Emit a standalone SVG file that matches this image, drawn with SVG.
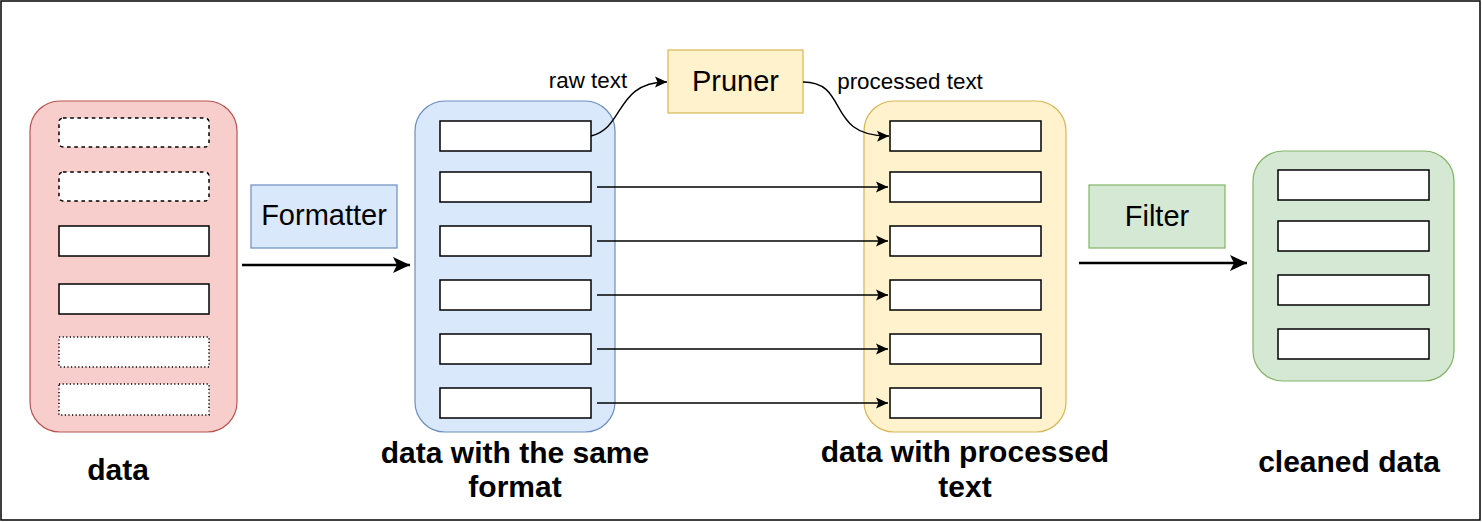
<svg xmlns="http://www.w3.org/2000/svg" width="1482" height="522" viewBox="0 0 1482 522">
<style>
.item{fill:#ffffff;stroke:#000000;stroke-width:1.5}
.dash{stroke-dasharray:3.6 3.6}
.dot{stroke-dasharray:1.2 2.4}
.lbl{font-family:"Liberation Sans",Arial,sans-serif;fill:#000000}
.big{font-size:29px;text-anchor:middle}
.cap{font-size:30px;font-weight:bold;text-anchor:middle}
.sm{font-size:22.4px;text-anchor:middle}
.thin{fill:none;stroke:#000000;stroke-width:1.4}
.thick{fill:none;stroke:#000000;stroke-width:2.6}
</style>
<defs>
<marker id="ah" markerUnits="userSpaceOnUse" markerWidth="14" markerHeight="14" viewBox="-13 -7 14 14" refX="0" refY="0" orient="auto">
<path d="M0,0 L-12,-5.5 L-9.5,0 L-12,5.5 Z" fill="#000000"/>
</marker>
<marker id="ahb" markerUnits="userSpaceOnUse" markerWidth="20" markerHeight="20" viewBox="-19 -10 20 20" refX="0" refY="0" orient="auto">
<path d="M0,0 L-17,-8 L-13,0 L-17,8 Z" fill="#000000"/>
</marker>
</defs>
<rect x="1" y="1" width="1479" height="519" fill="#ffffff" stroke="#000000" stroke-width="1.5"/>

<g id="data">
<rect x="30" y="101" width="207" height="331" rx="30" fill="#f8cecc" stroke="#b85450" stroke-width="1.2"/>
<rect class="item dash" x="59" y="118" width="150" height="29" rx="4"/>
<rect class="item dash" x="59" y="172" width="150" height="29" rx="4"/>
<rect class="item" x="59" y="226" width="150" height="30"/>
<rect class="item" x="59" y="284" width="150" height="30"/>
<rect class="item dot" x="59" y="337" width="150" height="30"/>
<rect class="item dot" x="59" y="384" width="150" height="31"/>
<text class="lbl cap" x="118" y="480">data</text>
</g>

<g id="formatter">
<rect x="251" y="185" width="146" height="63" fill="#dae8fc" stroke="#6c8ebf" stroke-width="1.2"/>
<text class="lbl big" x="324" y="225">Formatter</text>
</g>

<g id="same-format">
<rect x="415" y="101" width="200" height="331" rx="30" fill="#dae8fc" stroke="#6c8ebf" stroke-width="1.2"/>
<rect class="item" x="440" y="121" width="151" height="30"/>
<rect class="item" x="440" y="172" width="151" height="30"/>
<rect class="item" x="440" y="226" width="151" height="30"/>
<rect class="item" x="440" y="280" width="151" height="30"/>
<rect class="item" x="440" y="334" width="151" height="30"/>
<rect class="item" x="440" y="388" width="151" height="30"/>
<text class="lbl cap" x="515" y="463">data with the same</text>
<text class="lbl cap" x="515" y="497">format</text>
</g>

<g id="pruner">
<rect x="668" y="50" width="135" height="63" fill="#fff2cc" stroke="#d6b656" stroke-width="1.2"/>
<text class="lbl big" x="735.5" y="91">Pruner</text>
</g>

<g id="processed">
<rect x="864" y="101" width="202" height="331" rx="30" fill="#fff2cc" stroke="#d6b656" stroke-width="1.2"/>
<rect class="item" x="890" y="121" width="151" height="30"/>
<rect class="item" x="890" y="172" width="151" height="30"/>
<rect class="item" x="890" y="226" width="151" height="30"/>
<rect class="item" x="890" y="280" width="151" height="30"/>
<rect class="item" x="890" y="334" width="151" height="30"/>
<rect class="item" x="890" y="388" width="151" height="30"/>
<text class="lbl cap" x="965" y="462">data with processed</text>
<text class="lbl cap" x="965" y="497">text</text>
</g>

<g id="filter">
<rect x="1089" y="185" width="136" height="63" fill="#d5e8d4" stroke="#82b366" stroke-width="1.2"/>
<text class="lbl big" x="1157" y="226">Filter</text>
</g>

<g id="cleaned">
<rect x="1253" y="151" width="201" height="230" rx="30" fill="#d5e8d4" stroke="#82b366" stroke-width="1.2"/>
<rect class="item" x="1278" y="170" width="151" height="30"/>
<rect class="item" x="1278" y="221" width="151" height="30"/>
<rect class="item" x="1278" y="275" width="151" height="30"/>
<rect class="item" x="1278" y="329" width="151" height="30"/>
<text class="lbl cap" x="1349" y="472">cleaned data</text>
</g>

<g id="connectors">
<path class="thick" d="M242,265 L410,265" marker-end="url(#ahb)"/>
<path class="thick" d="M1079,263 L1247,263" marker-end="url(#ahb)"/>
<path class="thin" d="M591,136 C625,128 615,82 667,82" marker-end="url(#ah)"/>
<path class="thin" d="M803,82 C850,82 825,137 889,136" marker-end="url(#ah)"/>
<path class="thin" d="M597,187 L888,187" marker-end="url(#ah)"/>
<path class="thin" d="M597,241 L888,241" marker-end="url(#ah)"/>
<path class="thin" d="M597,295 L888,295" marker-end="url(#ah)"/>
<path class="thin" d="M597,349 L888,349" marker-end="url(#ah)"/>
<path class="thin" d="M597,403 L888,403" marker-end="url(#ah)"/>
<text class="lbl sm" x="588" y="88">raw text</text>
<text class="lbl sm" x="910" y="89">processed text</text>
</g>
</svg>
